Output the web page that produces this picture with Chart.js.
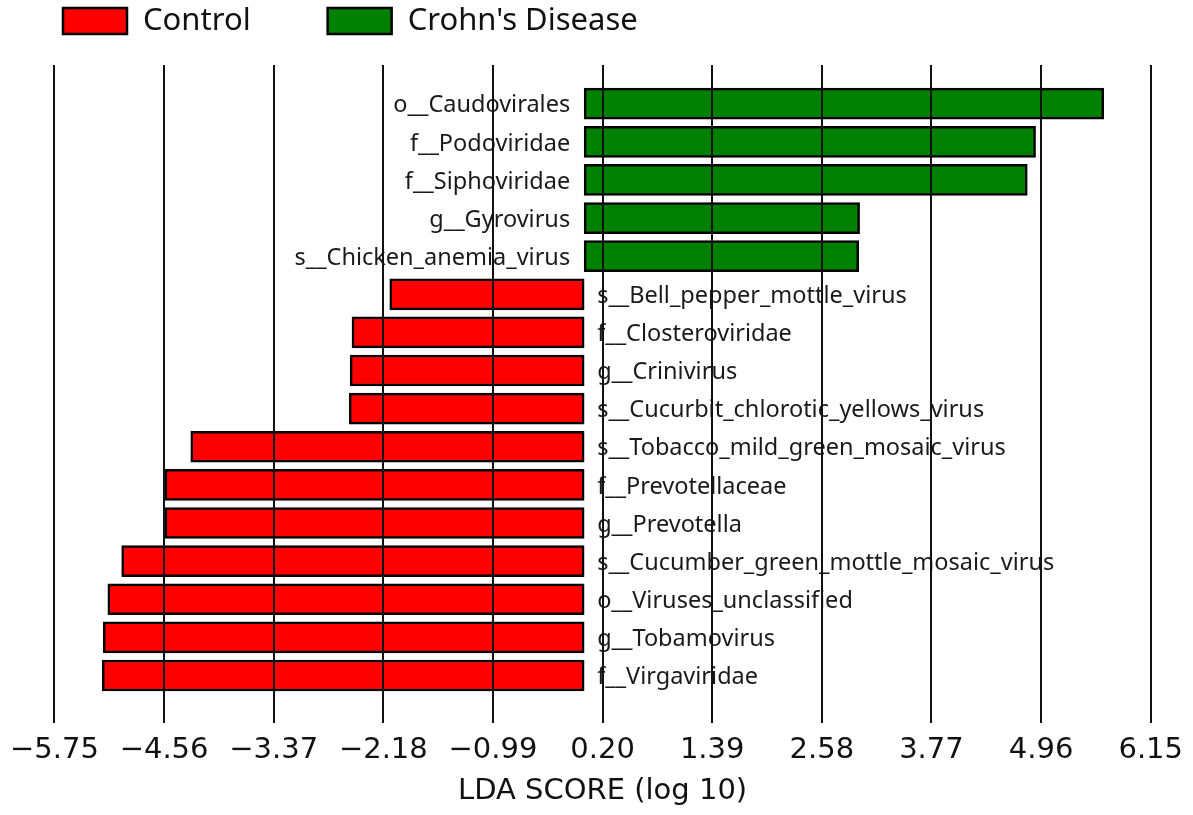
<!DOCTYPE html>
<html>
<head>
<meta charset="utf-8">
<script src="https://cdn.jsdelivr.net/npm/chart.js@4.4.1/dist/chart.umd.min.js"></script>
<style>
  html, body { margin: 0; padding: 0; background: #fff; }
  #wrap { width: 1193px; height: 815px; position: relative; }
</style>
</head>
<body>
<div id="wrap"><canvas id="ldaChart"></canvas></div>
<script>
// taxa from top to bottom, as in the LEfSe plot
const taxa = [
    'o__Caudovirales',
    'f__Podoviridae',
    'f__Siphoviridae',
    'g__Gyrovirus',
    's__Chicken_anemia_virus',
    's__Bell_pepper_mottle_virus',
    'f__Closteroviridae',
    'g__Crinivirus',
    's__Cucurbit_chlorotic_yellows_virus',
    's__Tobacco_mild_green_mosaic_virus',
    'f__Prevotellaceae',
    'g__Prevotella',
    's__Cucumber_green_mottle_mosaic_virus',
    'o__Viruses_unclassified',
    'g__Tobamovirus',
    'f__Virgaviridae'
];
const ldaScores = [5.64, 4.90, 4.81, 2.99, 2.98, -2.11, -2.52, -2.54, -2.55, -4.27, -4.55, -4.55, -5.02, -5.17, -5.22, -5.23];
const groupNames = ['Control', "Crohn's Disease"];
const groupColors = ['#ff0000', '#008000'];
const xTicks = [-5.75, -4.56, -3.37, -2.18, -0.99, 0.20, 1.39, 2.58, 3.77, 4.96, 6.15];

const labelFont = '23.5px "Noto Sans"';

function fmtTick(v) {
    const s = Math.abs(v).toFixed(2);
    return v < 0 ? '\u2212' + s : s;
}

// one dataset per class, points keep their row index
const datasets = groupNames.map((name, g) => {
    const pts = [];
    ldaScores.forEach((v, i) => {
        if ((g === 0 && v < 0) || (g === 1 && v > 0)) pts.push({ x: v, y: i });
    });
    return {
        label: name,
        data: pts,
        backgroundColor: groupColors[g],
        borderColor: '#000',
        borderWidth: 2.5,
        borderSkipped: false,
        barThickness: 31,
        grouped: false
    };
});

// taxon names next to the zero line
const taxaLabels = {
    id: 'taxaLabels',
    afterDatasetsDraw(chart) {
        const ctx = chart.ctx;
        const xs = chart.scales.x, ys = chart.scales.y;
        const x0 = xs.getPixelForValue(0);
        ctx.save();
        ctx.font = labelFont;
        ctx.fillStyle = '#1a1a1a';
        ctx.textBaseline = 'middle';
        taxa.forEach((name, i) => {
            const y = ys.getPixelForValue(i) + 2;
            if (ldaScores[i] > 0) {
                ctx.textAlign = 'right';
                ctx.fillText(name, x0 - 14, y);
            } else {
                ctx.textAlign = 'left';
                ctx.fillText(name, x0 + 13, y);
            }
        });
        ctx.restore();
    }
};

// vertical grid drawn on top of the bars
const frontGrid = {
    id: 'frontGrid',
    afterDatasetsDraw(chart) {
        const ctx = chart.ctx;
        const xs = chart.scales.x;
        const area = chart.chartArea;
        ctx.save();
        ctx.strokeStyle = '#111';
        ctx.lineWidth = 2;
        xTicks.forEach(t => {
            const x = Math.round(xs.getPixelForValue(t));
            ctx.beginPath();
            ctx.moveTo(x, area.top);
            ctx.lineTo(x, area.bottom);
            ctx.stroke();
        });
        ctx.restore();
    }
};

// legend in the top strip
const topLegend = {
    id: 'topLegend',
    afterDraw(chart) {
        const ctx = chart.ctx;
        const boxW = 64, boxH = 26;
        let x = 63;
        const y = 8;
        ctx.save();
        ctx.font = '31px "Noto Sans"';
        ctx.textBaseline = 'middle';
        ctx.textAlign = 'left';
        chart.data.datasets.forEach(ds => {
            ctx.fillStyle = ds.backgroundColor;
            ctx.fillRect(x, y, boxW, boxH);
            ctx.strokeStyle = '#000';
            ctx.lineWidth = 2.5;
            ctx.strokeRect(x, y, boxW, boxH);
            ctx.fillStyle = '#111';
            ctx.fillText(ds.label, x + boxW + 16, y + boxH / 2);
            x += boxW + 16 + ctx.measureText(ds.label).width + 77;
        });
        ctx.restore();
    }
};

new Chart(document.getElementById('ldaChart'), {
    type: 'bar',
    data: { datasets: datasets },
    options: {
        indexAxis: 'y',
        responsive: true,
        maintainAspectRatio: false,
        animation: false,
        devicePixelRatio: 1,
        layout: { padding: { left: 53, right: 39, top: 65, bottom: 0 } },
        plugins: {
            legend: { display: false },
            tooltip: { enabled: false }
        },
        scales: {
            x: {
                type: 'linear',
                min: -5.75,
                max: 6.15,
                afterBuildTicks: axis => { axis.ticks = xTicks.map(v => ({ value: v })); },
                afterFit: axis => { axis.height = 92; },
                grid: { display: false, drawTicks: false },
                border: { display: false },
                ticks: {
                    callback: v => fmtTick(v),
                    autoSkip: false,
                    maxRotation: 0,
                    padding: 10,
                    color: '#111',
                    font: { family: 'DejaVu Sans', size: 29 }
                },
                title: {
                    display: true,
                    text: 'LDA SCORE (log 10)',
                    color: '#111',
                    font: { family: 'DejaVu Sans', size: 29 },
                    padding: { top: 4, bottom: 6 }
                }
            },
            y: {
                type: 'linear',
                reverse: true,
                offset: false,
                min: -1.015,
                max: 16.246,
                display: false
            }
        }
    },
    plugins: [taxaLabels, frontGrid, topLegend]
});
</script>
</body>
</html>
